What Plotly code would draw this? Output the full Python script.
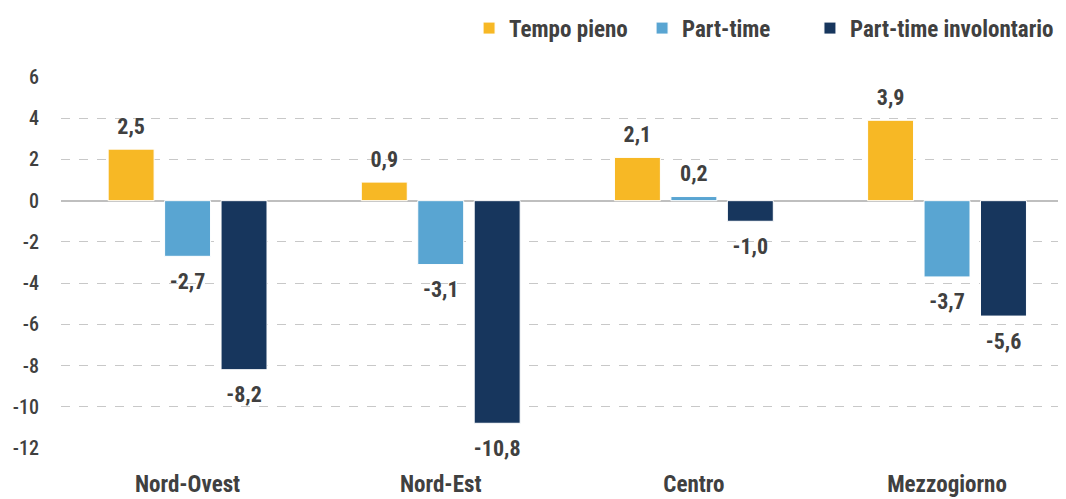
import plotly.graph_objects as go

categories = ["Nord-Ovest", "Nord-Est", "Centro", "Mezzogiorno"]
tempo_pieno = [2.5, 0.9, 2.1, 3.9]
part_time = [-2.7, -3.1, 0.2, -3.7]
part_time_invol = [-8.2, -10.8, -1.0, -5.6]
series_names = ["Tempo pieno", "Part-time", "Part-time involontario"]
colors = ["#F7B825", "#59A5D2", "#17365D"]
y_ticks = [-12, -10, -8, -6, -4, -2, 0, 2, 4, 6]

FONT = "Roboto Condensed, Roboto, sans-serif"
TXT = "#404040"
GAP = 0.331
legend_ids = ["legend", "legend", "legend2"]

def fmt(v):
    return f"{v:.1f}".replace(".", ",")

fig = go.Figure()
all_series = [tempo_pieno, part_time, part_time_invol]
for i, (name, vals, col) in enumerate(zip(series_names, all_series, colors)):
    fig.add_trace(go.Bar(
        x=categories, y=vals, name=name, offsetgroup=str(i), legend=legend_ids[i],
        marker=dict(color=col, line=dict(color="white", width=1)),
    ))
for i, vals in enumerate(all_series):
    fig.add_trace(go.Scatter(
        x=categories, y=vals, mode="markers+text", offsetgroup=str(i),
        marker=dict(size=[14 if v >= 0 else 24 for v in vals], opacity=0, color="white"),
        text=[fmt(v) for v in vals],
        textposition=["top center" if v >= 0 else "bottom center" for v in vals],
        textfont=dict(family=FONT, size=22, color=TXT, weight="bold"),
        showlegend=False, hoverinfo="skip", cliponaxis=False,
    ))

legend_font = dict(family=FONT, size=23, color=TXT, weight="bold")
fig.update_layout(
    width=1058, height=491,
    margin=dict(l=53, r=1, t=69, b=51, autoexpand=False),
    paper_bgcolor="white", plot_bgcolor="white",
    barmode="group", bargap=GAP, bargroupgap=0.186,
    scattermode="group", scattergap=GAP,
    font=dict(family=FONT, size=19, color=TXT),
    legend=dict(orientation="h", xref="container", yref="container",
                x=0.4358, xanchor="left", y=0.959, yanchor="middle",
                entrywidth=128, entrywidthmode="pixels",
                font=legend_font, itemwidth=30, tracegroupgap=0),
    legend2=dict(orientation="h", xref="container", yref="container",
                 x=0.758, xanchor="left", y=0.959, yanchor="middle",
                 font=legend_font, itemwidth=30, tracegroupgap=0),
    showlegend=True,
)
fig.update_xaxes(range=[-0.5, 3.466], showgrid=False, showline=False, ticks="",
                 ticklabelstandoff=20,
                 tickfont=dict(family=FONT, size=23, color=TXT, weight="bold"))
fig.update_yaxes(range=[-12, 6], tickvals=y_ticks, ticktext=[str(t) for t in y_ticks],
                 showgrid=True, gridcolor="#C8C8C8", griddash="dash", gridwidth=1,
                 zeroline=True, zerolinecolor="#BFBFBF", zerolinewidth=2,
                 showline=False, ticks="", ticklabelstandoff=21,
                 tickfont=dict(family=FONT, size=20, color=TXT, weight=500))
fig.write_html("out.html")
